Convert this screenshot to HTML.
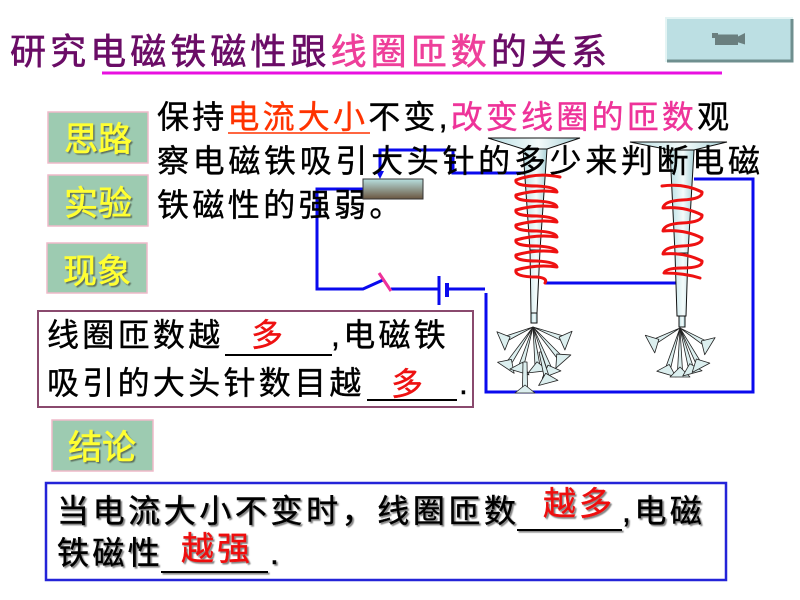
<!DOCTYPE html>
<html>
<head>
<meta charset="utf-8">
<style>
  html, body { margin: 0; padding: 0; background: #ffffff; }
  body { width: 800px; height: 600px; overflow: hidden; }
  svg { display: block; }
  text { font-family: "Liberation Sans", "Noto Sans CJK SC", sans-serif; }
</style>
</head>
<body>
<svg width="800" height="600" viewBox="0 0 800 600" xmlns="http://www.w3.org/2000/svg">
  <defs>
    <linearGradient id="nail" x1="0" y1="0" x2="1" y2="0">
      <stop offset="0" stop-color="#b9dfe4"/>
      <stop offset="0.55" stop-color="#f4fbfb"/>
      <stop offset="1" stop-color="#a8d2d8"/>
    </linearGradient>
    <linearGradient id="slider" x1="0" y1="0" x2="0" y2="1">
      <stop offset="0" stop-color="#b8e0e0"/>
      <stop offset="1" stop-color="#6a5640"/>
    </linearGradient>
    <filter id="sh" x="-5%" y="-20%" width="115%" height="150%">
      <feDropShadow dx="1.6" dy="1.6" stdDeviation="0.6" flood-color="#777777" flood-opacity="0.9"/>
    </filter>
    <filter id="shy" x="-10%" y="-20%" width="130%" height="150%">
      <feDropShadow dx="1.5" dy="1.5" stdDeviation="0.5" flood-color="#556655" flood-opacity="0.9"/>
    </filter>
  </defs>

  <!-- Title -->
  <text x="10" y="64" font-size="36" textLength="597" lengthAdjust="spacing" fill="#6a0c66" stroke="#6a0c66" stroke-width="0.6">研究电磁铁磁性跟<tspan fill="#ee3f9a" stroke="#ee3f9a">线圈匝数</tspan>的关系</text>
  <line x1="102" y1="73" x2="722" y2="73" stroke="#e810e0" stroke-width="3"/>

  <!-- Button top-right -->
  <rect x="666" y="18" width="127" height="44" fill="#bcdfe3"/>
  <polyline points="666,62 666,18 793,18" fill="none" stroke="#e4f4f4" stroke-width="2"/>
  <polyline points="667,61 792,61 792,19" fill="none" stroke="#6f8f8f" stroke-width="3"/>
  <rect x="712" y="33" width="6" height="5" fill="#6a7f7f"/>
  <rect x="715" y="34.5" width="23" height="10.5" fill="#6a7f7f"/>
  <polygon points="737,37 745,33 745,44.5 737,42" fill="#6a7f7f"/>

  <!-- Label boxes -->
  <rect x="48" y="112" width="100" height="51" fill="#9dcbb1" stroke="#efb9c9" stroke-width="1.5"/>
  <rect x="48" y="175" width="100" height="51" fill="#9dcbb1" stroke="#efb9c9" stroke-width="1.5"/>
  <rect x="47" y="243" width="100" height="50" fill="#9dcbb1" stroke="#efb9c9" stroke-width="1.5"/>
  <rect x="52" y="420" width="101" height="51" fill="#9dcbb1" stroke="#efb9c9" stroke-width="1.5"/>

  <g font-size="34" text-anchor="middle" fill="#ffff33" stroke="#ffff33" stroke-width="0.6" filter="url(#shy)">
    <text x="98" y="151">思路</text>
    <text x="98" y="215">实验</text>
    <text x="97" y="283">现象</text>
    <text x="102" y="459">结论</text>
  </g>

  <!-- Phenomenon box -->
  <rect x="38" y="311" width="435" height="96" fill="none" stroke="#8a4a6e" stroke-width="2"/>

  <!-- Conclusion box -->
  <rect x="46" y="483" width="680" height="97" fill="none" stroke="#2424d8" stroke-width="2.5"/>

  <!-- Circuit wires -->
  <g fill="none" stroke="#0a0aee" stroke-width="3" stroke-linejoin="miter">
    <polyline points="380,172 380,150 453,150 453,173 524,173"/>
    <polyline points="363,189 317,189 317,289 363,289 383,280"/>
    <line x1="391" y1="289" x2="439" y2="289"/>
    <line x1="439" y1="276" x2="439" y2="305"/>
    <line x1="447" y1="283" x2="447" y2="297" stroke-width="4"/>
    <line x1="447" y1="289" x2="485" y2="289"/>
    <polyline points="486,293 486,392 753,392 753,179 694,179"/>
    <line x1="545" y1="283" x2="679" y2="283"/>
  </g>
  <polygon points="376,171 384,171 380,179" fill="#0a0aee"/>
  <line x1="379" y1="273" x2="391" y2="291" stroke="#ee3399" stroke-width="3"/>

  <!-- Left nail -->
  <polygon points="488,138 580,138 547,149 523,149" fill="url(#nail)" stroke="#111" stroke-width="1"/>
  <polygon points="523,149 547,149 540,250 537,313 531,313 530,250" fill="url(#nail)" stroke="#111" stroke-width="1"/>
  <line x1="530" y1="250" x2="540" y2="250" stroke="#111" stroke-width="1"/>
  <rect x="531" y="313" width="6" height="10" fill="url(#nail)" stroke="#111" stroke-width="1"/>

  <!-- Right nail -->
  <polygon points="630,142 727,142 694,150 670,150" fill="url(#nail)" stroke="#111" stroke-width="1"/>
  <polygon points="670,150 694,150 688,253 686,316 677,316 675,253" fill="url(#nail)" stroke="#111" stroke-width="1"/>
  <line x1="675" y1="253" x2="688" y2="253" stroke="#111" stroke-width="1"/>
  <rect x="679" y="316" width="6" height="11" fill="url(#nail)" stroke="#111" stroke-width="1"/>

  <!-- Coils (zig-zag style) -->
  <path d="M560,177 Q537,172 516,180 Q514,186 537,186 Q556,187 557,192
           Q537,189 516,195 Q514,201 537,201 Q556,202 557,207
           Q537,204 516,210 Q514,216 537,216 Q556,217 557,222
           Q537,219 516,225 Q514,231 537,231 Q556,232 557,237
           Q537,234 516,240 Q514,246 537,246 Q556,247 557,252
           Q537,249 516,255 Q514,261 537,261 Q556,262 557,267
           Q537,264 516,270 Q514,277 537,277 Q548,278 545,283"
        fill="none" stroke="#ee1111" stroke-width="3" stroke-linejoin="round" stroke-linecap="round"/>
  <path d="M662,186 Q684,183 702,192 Q703,199 682,200 Q664,201 663,208
           Q684,206 702,215 Q703,222 682,223 Q664,224 663,231
           Q684,229 702,238 Q703,245 682,246 Q664,247 663,254
           Q684,252 702,261 Q703,268 682,268 Q666,268 664,273 Q684,273 700,278"
        fill="none" stroke="#ee1111" stroke-width="3" stroke-linejoin="round" stroke-linecap="round"/>

  <!-- Pins (left) -->
  <g fill="#dcefef" stroke="#222" stroke-width="0.8" stroke-linejoin="round">
    <g transform="translate(533,327) rotate(66.6)"><polygon points="0,0 -2.5,28.7 2.5,28.7"/><polygon points="-10,35 10,35 0,25"/></g>
    <g transform="translate(533,327) rotate(33.7)"><polygon points="0,0 -2.5,43 2.5,43"/><polygon points="-10,49 10,49 0,39"/></g>
    <g transform="translate(533,327) rotate(16.8)"><polygon points="0,0 -2.5,41 2.5,41"/><polygon points="-10,47 10,47 0,37"/></g>
    <g transform="translate(533,327) rotate(-6.6)"><polygon points="0,0 -2.5,39 2.5,39"/><polygon points="-10,45 10,45 0,35"/></g>
    <g transform="translate(533,327) rotate(-21.4)"><polygon points="0,0 -2.5,45 2.5,45"/><polygon points="-10,51 10,51 0,41"/></g>
    <g transform="translate(533,327) rotate(-41.3)"><polygon points="0,0 -2.5,40 2.5,40"/><polygon points="-10,46 10,46 0,36"/></g>
    <g transform="translate(533,327) rotate(-69)"><polygon points="0,0 -2.5,32 2.5,32"/><polygon points="-10,38 10,38 0,28"/></g>
    <g transform="translate(525,362) rotate(0)"><polygon points="-2,0 2,0 2.5,25 -2.5,25"/><polygon points="-10,31 10,31 0,23"/></g>
    <g transform="translate(540,352) rotate(-15)"><polygon points="-1,0 1,0 2.5,26 -2.5,26"/><polygon points="-10,32 10,32 0,22"/></g>
  </g>
  <!-- Pins (right) -->
  <g fill="#dcefef" stroke="#222" stroke-width="0.8" stroke-linejoin="round">
    <g transform="translate(680,328) rotate(61.8)"><polygon points="0,0 -2.5,28 2.5,28"/><polygon points="-10,34 10,34 0,24"/></g>
    <g transform="translate(680,328) rotate(16.5)"><polygon points="0,0 -2.5,42 2.5,42"/><polygon points="-10,48 10,48 0,38"/></g>
    <g transform="translate(680,328) rotate(0)"><polygon points="0,0 -2.5,43 2.5,43"/><polygon points="-10,49 10,49 0,39"/></g>
    <g transform="translate(680,328) rotate(-15.3)"><polygon points="0,0 -2.5,41 2.5,41"/><polygon points="-10,47 10,47 0,37"/></g>
    <g transform="translate(680,328) rotate(-27.8)"><polygon points="0,0 -2.5,39 2.5,39"/><polygon points="-10,45 10,45 0,35"/></g>
    <g transform="translate(680,328) rotate(-58.7)"><polygon points="0,0 -2.5,29 2.5,29"/><polygon points="-10,35 10,35 0,25"/></g>
  </g>

  <!-- Body text -->
  <text x="157" y="128" font-size="32" fill="#000" stroke="#000" stroke-width="0.4" style="letter-spacing:3.2px">保持<tspan fill="#ff3300" stroke="#ff3300">电流大小</tspan>不变,<tspan fill="#ee3399" stroke="#ee3399">改变线圈的匝数</tspan>观</text>
  <line x1="228" y1="133" x2="370" y2="133" stroke="#ff3300" stroke-width="1.5"/>
  <text x="157" y="172" font-size="32" fill="#000" stroke="#000" stroke-width="0.4" textLength="603" lengthAdjust="spacing">察电磁铁吸引大头针的多少来判断电磁</text>
  <text x="157" y="216" font-size="32" fill="#000" stroke="#000" stroke-width="0.4" style="letter-spacing:3.4px">铁磁性的强弱。</text>

  <!-- Phenomenon text -->
  <g font-size="32" fill="#000" stroke="#000" stroke-width="0.4">
    <text x="47" y="346" style="letter-spacing:3.3px">线圈匝数越</text>
    <text x="251" y="346" fill="#ee1111" stroke="#ee1111">多</text>
    <text x="331" y="346" style="letter-spacing:3.3px">,电磁铁</text>
    <text x="47" y="394" style="letter-spacing:3.3px">吸引的大头针数目越</text>
    <text x="391" y="395" fill="#ee1111" stroke="#ee1111">多</text>
    <text x="459" y="394">.</text>
  </g>
  <line x1="225" y1="355" x2="332" y2="355" stroke="#000" stroke-width="2"/>
  <line x1="367" y1="400" x2="457" y2="400" stroke="#000" stroke-width="2"/>

  <!-- Conclusion text -->
  <g filter="url(#sh)">
    <g font-size="32" fill="#000" stroke="#000" stroke-width="0.5">
      <text x="57" y="522" textLength="459" lengthAdjust="spacing">当电流大小不变时，线圈匝数</text>
      <text x="622" y="522" style="letter-spacing:3.5px">,电磁</text>
      <text x="57" y="564" style="letter-spacing:3.4px">铁磁性</text>
      <text x="270" y="564">.</text>
      <text x="543" y="515" font-size="33" fill="#ee1111" stroke="#ee1111" style="letter-spacing:3px">越多</text>
      <text x="181" y="560" font-size="33" fill="#ee1111" stroke="#ee1111" style="letter-spacing:3px">越强</text>
    </g>
    <line x1="517" y1="530" x2="622" y2="530" stroke="#000" stroke-width="2"/>
    <line x1="161" y1="572" x2="268" y2="572" stroke="#000" stroke-width="2"/>
  </g>

  <!-- Rheostat slider (on top of text) -->
  <rect x="363" y="179" width="60" height="20" fill="url(#slider)" stroke="#333" stroke-width="1"/>
</svg>
</body>
</html>
